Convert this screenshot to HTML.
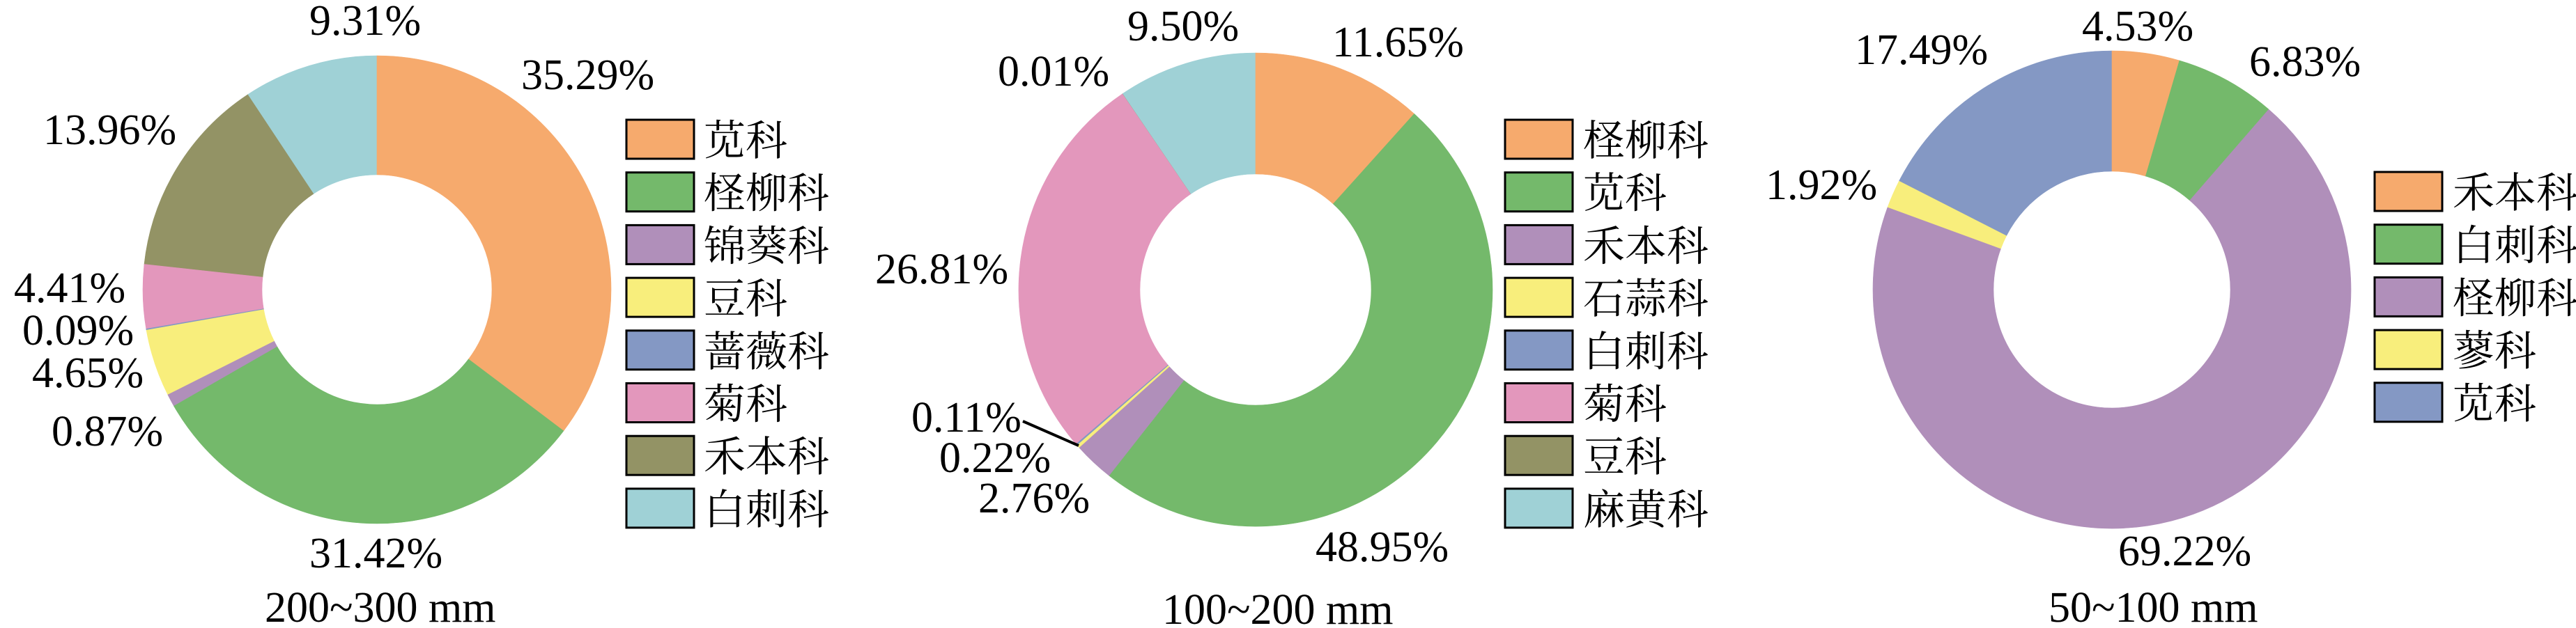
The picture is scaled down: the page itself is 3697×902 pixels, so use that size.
<!DOCTYPE html>
<html><head><meta charset="utf-8">
<style>
html,body{margin:0;padding:0;background:#fff;}
svg{display:block;}
text{font-family:"Liberation Serif","Noto Serif CJK SC",serif;fill:#000;}
.p{font-size:62px;font-family:"Liberation Serif",serif;}
.l{font-size:60px;font-family:"Liberation Serif","Noto Serif CJK SC",serif;}
</style></head>
<body>
<svg id="s" width="3697" height="902" viewBox="0 0 3697 902" xmlns="http://www.w3.org/2000/svg" font-family="Liberation Serif, serif">
<text class="p" x="444" y="50">9.31%</text>
<text class="p" x="748" y="128">35.29%</text>
<text class="p" x="62" y="207">13.96%</text>
<text class="p" x="20" y="434">4.41%</text>
<text class="p" x="32" y="495">0.09%</text>
<text class="p" x="46" y="556">4.65%</text>
<text class="p" x="74" y="640">0.87%</text>
<text class="p" x="444" y="815">31.42%</text>
<text class="p" x="380" y="893">200~300 mm</text>
<text class="p" x="1618" y="58">9.50%</text>
<text class="p" x="1912" y="81">11.65%</text>
<text class="p" x="1432" y="123">0.01%</text>
<text class="p" x="1256" y="407">26.81%</text>
<text class="p" x="1308" y="620">0.11%</text>
<text class="p" x="1348" y="678">0.22%</text>
<text class="p" x="1404" y="736">2.76%</text>
<text class="p" x="1888" y="806">48.95%</text>
<text class="p" x="1668" y="896">100~200 mm</text>
<line x1="1468" y1="605" x2="1548" y2="640" stroke="#000" stroke-width="4"/>
<text class="p" x="2988" y="58">4.53%</text>
<text class="p" x="3228" y="109">6.83%</text>
<text class="p" x="2662" y="92">17.49%</text>
<text class="p" x="2534" y="286">1.92%</text>
<text class="p" x="3040" y="812">69.22%</text>
<text class="p" x="2940" y="893">50~100 mm</text>
</svg>
<script>
var C={o:"#F6AA6D",g:"#74B96B",p:"#B08FBA",y:"#F8EE7C",b:"#8498C4",k:"#E397BC",v:"#939365",c:"#9FD1D6"};
var charts=[
 {cx:541,cy:416,R:336,r:165,d:[[35.29,"o"],[31.42,"g"],[0.87,"p"],[4.65,"y"],[0.09,"b"],[4.41,"k"],[13.96,"v"],[9.31,"c"]],
  lx:899,ly:172,tx:1010,leg:[["苋科","o"],["柽柳科","g"],["锦葵科","p"],["豆科","y"],["蔷薇科","b"],["菊科","k"],["禾本科","v"],["白刺科","c"]]},
 {cx:1802,cy:416,R:340,r:166,d:[[11.65,"o"],[48.95,"g"],[2.76,"p"],[0.22,"y"],[0.11,"b"],[26.81,"k"],[0.01,"v"],[9.50,"c"]],
  lx:2160,ly:172,tx:2272,leg:[["柽柳科","o"],["苋科","g"],["禾本科","p"],["石蒜科","y"],["白刺科","b"],["菊科","k"],["豆科","v"],["麻黄科","c"]]},
 {cx:3031,cy:416,R:343,r:170,d:[[4.53,"o"],[6.83,"g"],[69.22,"p"],[1.92,"y"],[17.49,"b"]],
  lx:3408,ly:247,tx:3520,leg:[["禾本科","o"],["白刺科","g"],["柽柳科","p"],["蓼科","y"],["苋科","b"]]}
];
var s=document.getElementById("s"),NS="http://www.w3.org/2000/svg";
function el(t,a,txt){var e=document.createElementNS(NS,t);for(var k in a)e.setAttribute(k,a[k]);if(txt)e.textContent=txt;s.insertBefore(e,s.firstChild);return e;}
charts.forEach(function(ch){
 var tot=0;ch.d.forEach(function(x){tot+=x[0];});
 var a=0;
 ch.d.forEach(function(x){
  var a0=a/tot*2*Math.PI,a1=(a+x[0])/tot*2*Math.PI;a+=x[0];
  function P(rr,an){return [ch.cx+rr*Math.sin(an),ch.cy-rr*Math.cos(an)];}
  var p1=P(ch.R,a0),p2=P(ch.R,a1),p3=P(ch.r,a1),p4=P(ch.r,a0),lg=(a1-a0)>Math.PI?1:0;
  var d="M"+p1+"A"+ch.R+","+ch.R+" 0 "+lg+" 1 "+p2+"L"+p3+"A"+ch.r+","+ch.r+" 0 "+lg+" 0 "+p4+"Z";
  el("path",{d:d,fill:C[x[1]],stroke:C[x[1]],"stroke-width":"0.6"});
 });
 ch.leg.forEach(function(L,i){
  var y=ch.ly+i*75.7;
  var t=el("text",{x:ch.tx,y:y+51,"class":"l"},L[0]);
  s.appendChild(t);
  el("rect",{x:ch.lx,y:y,width:97,height:56,fill:C[L[1]],stroke:"#000","stroke-width":"3"});
 });
});
</script>
</body></html>
